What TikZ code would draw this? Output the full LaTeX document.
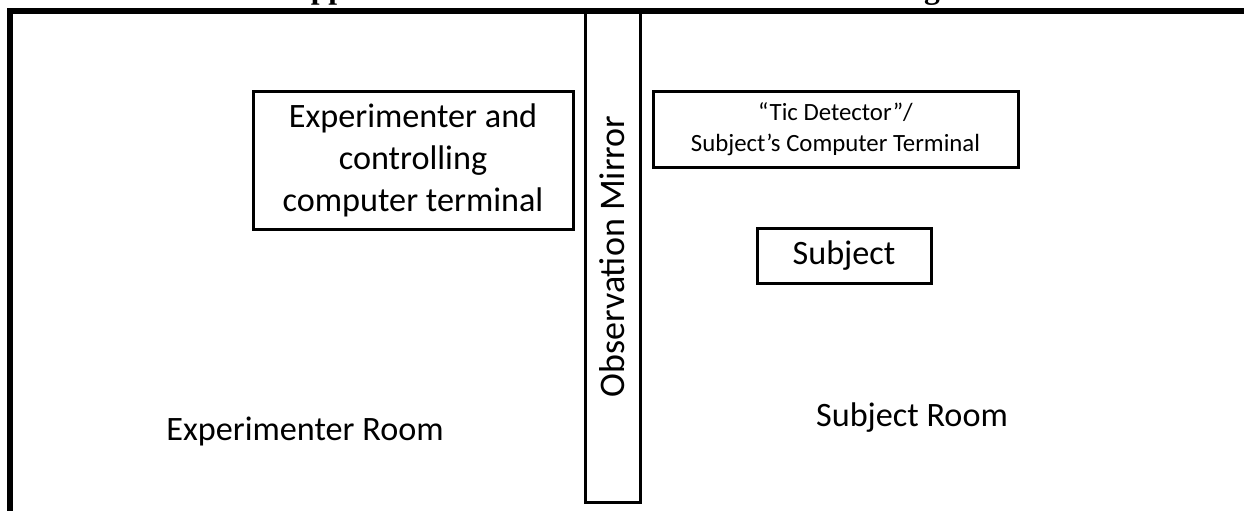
\documentclass[tikz,border=0pt]{standalone}
\usepackage{fontspec}
\setmainfont{Carlito}
\newfontfamily\titlefont{Liberation Serif}
\usetikzlibrary{positioning}

\begin{document}
\begin{tikzpicture}[x=0.5pt,y=-0.5pt,inner sep=0pt,
  box/.style={draw,line width=1.5pt,align=center},
  bigtext/.style={font=\fontsize{17.1}{21}\selectfont},
  smalltext/.style={font=\fontsize{12.4}{15.5}\selectfont}]%
\useasboundingbox (0,0) rectangle (1244,510);
\clip (0,0) rectangle (1244,510);
% title, cut off at the top
\node [anchor=base,font=\titlefont\bfseries\fontsize{15.8}{18}\selectfont] (Title) at (614,-2) {Appendix B: Schematic of Tic Detector Training};
% walls
\coordinate (TR) at (1250,11);
\coordinate (TL) at (10,11);
\coordinate (BL) at (10,515);
\draw [line width=3pt] (TR) -- (TL) -- (BL);
% mirror
\node [box,font=\fontsize{18}{21}\selectfont,rotate=90,minimum width=245.5pt,minimum height=27.5pt] (Mirror) at (612.5,256.5) {Observation Mirror};
% terminals and subject
\node [box,bigtext,minimum width=160pt,minimum height=69pt] (ExpTerm) at (413,160) {Experimenter and\\controlling\\computer terminal};
\node [box,smalltext,minimum width=182.5pt,minimum height=38pt] (TicTerm) at (835.5,129) {``Tic Detector''/\\Subject's Computer Terminal};
\node [box,bigtext,minimum width=87pt,minimum height=27.5pt] (Subj) at (844,255.5) {Subject};
% rooms
\node [bigtext,anchor=base] (ExpRoom) at (305,440) {Experimenter Room};
\node [bigtext,anchor=base] (SubjRoom) at (912,426) {Subject Room};
\end{tikzpicture}
\end{document}
